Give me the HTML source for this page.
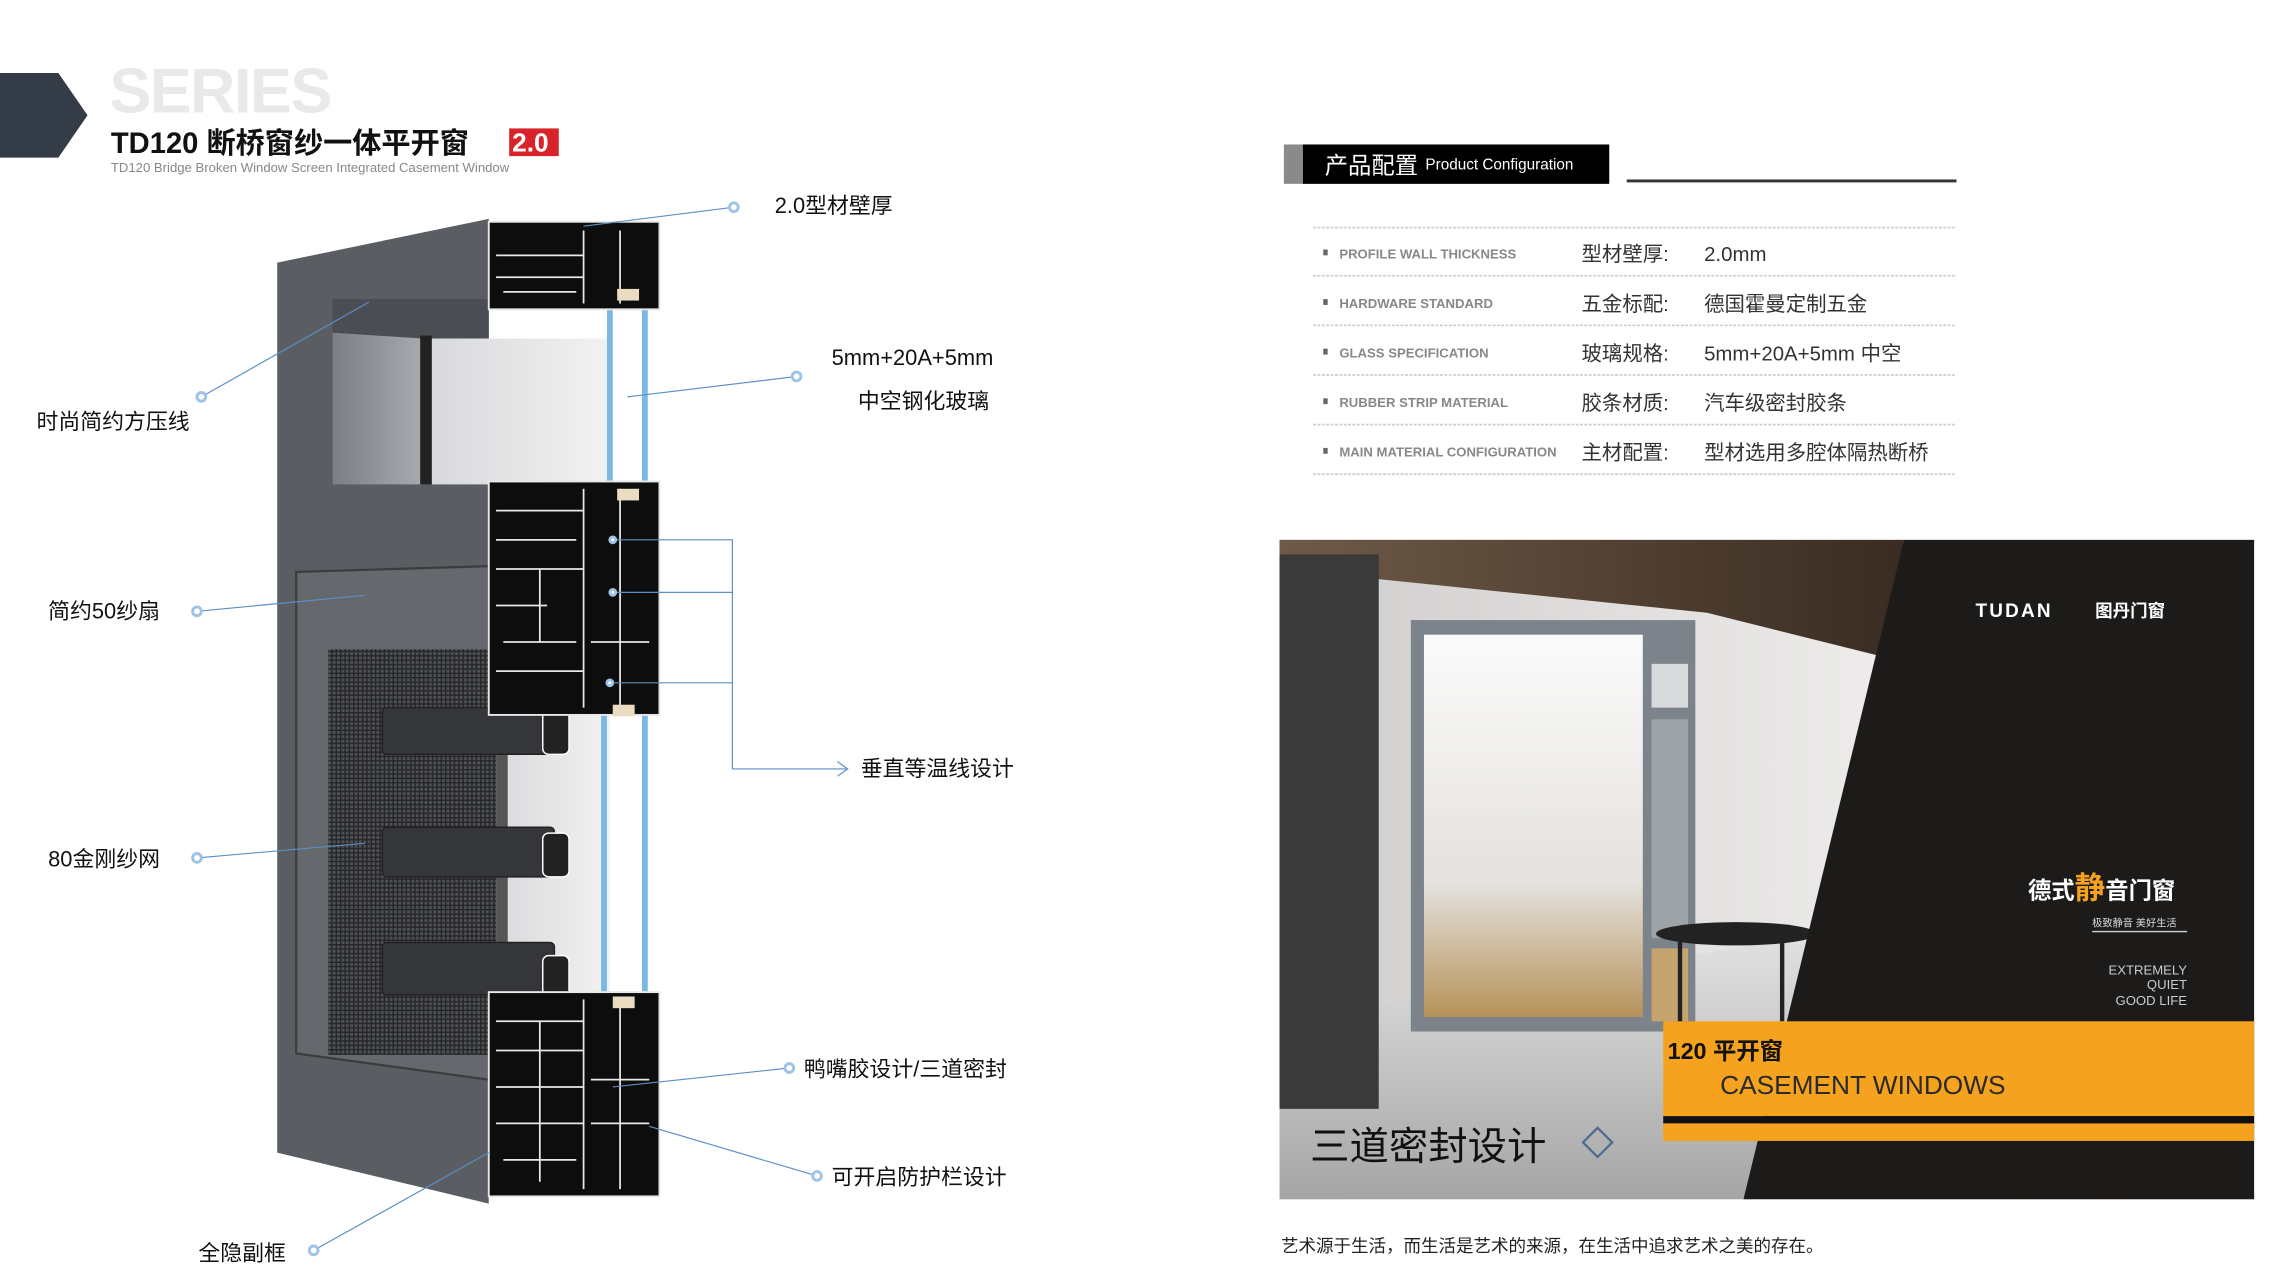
<!DOCTYPE html>
<html><head><meta charset="utf-8"><style>
html,body{margin:0;padding:0;background:#fff;}
svg{display:block;}
text{font-family:"Liberation Sans","Noto Sans CJK SC",sans-serif;}
</style></head><body>
<svg width="2276" height="1280" viewBox="0 0 1560 877.3" xmlns="http://www.w3.org/2000/svg">
<defs>
<pattern id="mesh" width="3" height="3" patternUnits="userSpaceOnUse"><rect width="3" height="3" fill="#262729"/><rect width="2" height="2" fill="#4e5053"/></pattern>
<linearGradient id="rev" x1="0" x2="1"><stop offset="0" stop-color="#7c8086"/><stop offset="1" stop-color="#a7abb0"/></linearGradient>
<linearGradient id="gl" x1="0" x2="1"><stop offset="0" stop-color="#d8d9db"/><stop offset="1" stop-color="#f2f2f2"/></linearGradient>
<linearGradient id="wall" x1="0" x2="1"><stop offset="0" stop-color="#cfcdcc"/><stop offset="0.6" stop-color="#ecebea"/><stop offset="1" stop-color="#d9d8d6"/></linearGradient>
<linearGradient id="sky" x1="0" y1="0" x2="0" y2="1"><stop offset="0" stop-color="#fbfbfb"/><stop offset="0.65" stop-color="#e4e2de"/><stop offset="1" stop-color="#b7925a"/></linearGradient>
<linearGradient id="floor" x1="0" y1="0" x2="0" y2="1"><stop offset="0" stop-color="#e2e2e2"/><stop offset="1" stop-color="#a5a5a5"/></linearGradient>
<linearGradient id="ceil" x1="0" x2="1"><stop offset="0" stop-color="#6e5a48"/><stop offset="1" stop-color="#3a2c22"/></linearGradient>
</defs>

<polygon points="0,50 40,50 60,79 40,108 0,108" fill="#343c48"/>
<text x="75" y="77" font-size="43" font-weight="bold" fill="#e9e9ea" letter-spacing="-1">SERIES</text>
<text x="76" y="105" font-size="20" font-weight="bold" fill="#111">TD120 断桥窗纱一体平开窗</text>
<rect x="349" y="88" width="34" height="19" fill="#d9232a"/>
<text x="351" y="104" font-size="18" font-weight="bold" fill="#fff">2.0</text>
<text x="76" y="118" font-size="9" fill="#888">TD120 Bridge Broken Window Screen Integrated Casement Window</text>

<polygon points="190,180 335,150 335,825 190,790" fill="#5a5d62"/>
<polygon points="228,228 290,232 290,332 228,332" fill="url(#rev)"/>
<polygon points="228,205 335,205 335,232 290,232 228,228" fill="#4a4d52"/>
<rect x="288" y="230" width="8" height="102" fill="#222"/>
<rect x="296" y="232" width="122" height="100" fill="url(#gl)"/>
<polygon points="203,392 335,388 335,740 203,722" fill="#65686d" stroke="#3a3c40" stroke-width="1.5"/>
<rect x="225" y="445" width="115" height="278" fill="url(#mesh)"/>
<rect x="340" y="490" width="78" height="192" fill="url(#gl)"/>
<rect x="340" y="490" width="8" height="192" fill="#555"/>
<g fill="#35363a" stroke="#222">
<rect x="262" y="485" width="118" height="32" rx="3"/>
<rect x="262" y="567" width="118" height="34" rx="3"/>
<rect x="262" y="646" width="118" height="36" rx="3"/>
</g>
<g fill="#222" stroke="#fff" stroke-width="1">
<rect x="372" y="487" width="18" height="30" rx="4"/>
<rect x="372" y="571" width="18" height="30" rx="4"/>
<rect x="372" y="655" width="18" height="32" rx="4"/>
</g>
<g fill="#7ab9e4">
<rect x="416" y="208" width="4" height="125"/><rect x="440" y="208" width="4" height="125"/>
<rect x="412" y="490" width="4" height="193"/><rect x="440" y="490" width="4" height="193"/>
</g>
<g fill="#0d0d0d" stroke="#e8e8e8" stroke-width="1.3">
<rect x="335" y="152" width="117" height="60"/>
<rect x="335" y="330" width="117" height="160"/>
<rect x="335" y="680" width="117" height="140"/>
</g>
<g fill="none" stroke="#e8e8e8" stroke-width="1.2">
<path d="M340 175h60M340 190h60M400 158v50M425 158v50M345 200h50"/>
<path d="M340 350h60M340 370h55M340 390h60M340 415h35M370 390v50M400 335v150M425 335v150M345 440h50M405 440h40M340 460h60"/>
<path d="M340 700h60M340 720h60M340 745h60M370 700v110M400 685v130M425 685v130M340 770h60M345 795h50M405 740h40M405 770h40"/>
</g>
<g fill="#e9dcc0"><rect x="423" y="198" width="15" height="8"/><rect x="423" y="335" width="15" height="8"/><rect x="420" y="483" width="15" height="8"/><rect x="420" y="683" width="15" height="8"/></g>

<g stroke="#5d8fc4" stroke-width="0.8" fill="none">
<line x1="503" y1="142" x2="400" y2="155"/>
<line x1="546" y1="258" x2="430" y2="272"/>
<line x1="138" y1="272" x2="253" y2="207"/>
<line x1="135" y1="419" x2="250" y2="408"/>
<line x1="135" y1="588" x2="250" y2="578"/>
<line x1="541" y1="732" x2="420" y2="745"/>
<line x1="560" y1="806" x2="445" y2="772"/>
<line x1="215" y1="857" x2="335" y2="790"/>
<path d="M420 370H502V527H580M420 406H502M420 468H502"/>
<path d="M574 522L581 527L574 532"/>
</g>
<g fill="#fff" stroke="#9fc3e6" stroke-width="2">
<circle cx="503" cy="142" r="3"/><circle cx="546" cy="258" r="3"/><circle cx="138" cy="272" r="3"/>
<circle cx="135" cy="419" r="3"/><circle cx="135" cy="588" r="3"/><circle cx="541" cy="732" r="3"/>
<circle cx="560" cy="806" r="3"/><circle cx="215" cy="857" r="3"/>
<circle cx="420" cy="370" r="2"/><circle cx="420" cy="406" r="2"/><circle cx="418" cy="468" r="2"/>
</g>
<g font-size="15" fill="#111">
<text x="531" y="146">2.0型材壁厚</text>
<text x="570" y="250">5mm+20A+5mm</text>
<text x="588" y="280">中空钢化玻璃</text>
<text x="25" y="294">时尚简约方压线</text>
<text x="33" y="424">简约50纱扇</text>
<text x="590" y="532">垂直等温线设计</text>
<text x="33" y="594">80金刚纱网</text>
<text x="551" y="738">鸭嘴胶设计/三道密封</text>
<text x="570" y="812">可开启防护栏设计</text>
<text x="136" y="864">全隐副框</text>
</g>

<rect x="880" y="99" width="13" height="27" fill="#8a8a8a"/>
<rect x="893" y="99" width="210" height="27" fill="#000"/>
<text x="908" y="119" font-size="16" fill="#fff">产品配置</text>
<text x="977" y="116" font-size="10.5" fill="#fff">Product Configuration</text>
<rect x="1115" y="123" width="226" height="2" fill="#333"/>
<g stroke="#cfcfcf" stroke-width="1.2" stroke-dasharray="2 1">
<line x1="900" y1="156" x2="1341" y2="156"/><line x1="900" y1="189" x2="1341" y2="189"/>
<line x1="900" y1="223" x2="1341" y2="223"/><line x1="900" y1="257" x2="1341" y2="257"/>
<line x1="900" y1="291" x2="1341" y2="291"/><line x1="900" y1="325" x2="1341" y2="325"/>
</g>
<g fill="#666"><rect x="907" y="171" width="3" height="4"/><rect x="907" y="205" width="3" height="4"/><rect x="907" y="239" width="3" height="4"/><rect x="907" y="273" width="3" height="4"/><rect x="907" y="307" width="3" height="4"/></g>
<g font-size="9" fill="#888" font-weight="bold">
<text x="918" y="177">PROFILE WALL THICKNESS</text>
<text x="918" y="211">HARDWARE STANDARD</text>
<text x="918" y="245">GLASS SPECIFICATION</text>
<text x="918" y="279">RUBBER STRIP MATERIAL</text>
<text x="918" y="313">MAIN MATERIAL CONFIGURATION</text>
</g>
<g font-size="14" fill="#333">
<text x="1084" y="179">型材壁厚:</text><text x="1168" y="179">2.0mm</text>
<text x="1084" y="213">五金标配:</text><text x="1168" y="213">德国霍曼定制五金</text>
<text x="1084" y="247">玻璃规格:</text><text x="1168" y="247">5mm+20A+5mm 中空</text>
<text x="1084" y="281">胶条材质:</text><text x="1168" y="281">汽车级密封胶条</text>
<text x="1084" y="315">主材配置:</text><text x="1168" y="315">型材选用多腔体隔热断桥</text>
</g>

<rect x="877" y="370" width="668" height="452" fill="url(#wall)"/>
<polygon points="877,370 1305,370 1290,450 1170,420 877,390" fill="url(#ceil)"/>
<polygon points="877,700 1250,640 1200,822 877,822" fill="url(#floor)"/>
<rect x="877" y="380" width="68" height="380" fill="#3a3a3a"/>
<rect x="967" y="425" width="195" height="282" fill="#7d838a"/>
<rect x="976" y="435" width="150" height="262" fill="url(#sky)"/>
<rect x="1132" y="455" width="25" height="30" fill="#d8dadc"/>
<rect x="1132" y="493" width="25" height="150" fill="#9ea3a8"/>
<rect x="1132" y="650" width="25" height="50" fill="#c6a470"/>
<ellipse cx="1190" cy="640" rx="55" ry="8" fill="#222"/>
<rect x="1150" y="640" width="3" height="70" fill="#222"/><rect x="1220" y="640" width="3" height="60" fill="#222"/>
<polygon points="1305,370 1545,370 1545,822 1195,822" fill="#1c1b1a"/>
<text x="1354" y="423" font-size="13" font-weight="bold" fill="#fff" letter-spacing="1.5">TUDAN</text>
<text x="1436" y="423" font-size="12" font-weight="bold" fill="#fff">图丹门窗</text>
<text x="1390" y="616" font-size="16" font-weight="bold" fill="#fff">德式<tspan fill="#f5a21e" font-size="21">静</tspan>音门窗</text>
<text x="1434" y="635" font-size="7" fill="#ddd">极致静音 美好生活</text>
<rect x="1434" y="638" width="65" height="1" fill="#ccc"/>
<g font-size="9" fill="#ccc" text-anchor="end"><text x="1499" y="668">EXTREMELY</text><text x="1499" y="678">QUIET</text><text x="1499" y="689">GOOD LIFE</text></g>
<rect x="1140" y="700" width="405" height="65" fill="#f5a21e"/>
<rect x="1140" y="765" width="405" height="5" fill="#111"/>
<rect x="1140" y="770" width="405" height="12" fill="#f5a21e"/>
<text x="1143" y="726" font-size="16" font-weight="bold" fill="#111">120 平开窗</text>
<text x="1179" y="750" font-size="18" fill="#2a2a2a">CASEMENT WINDOWS</text>
<text x="898" y="795" font-size="27" fill="#111">三道密封设计</text>
<polygon points="1095,773 1105,783 1095,793 1085,783" fill="none" stroke="#4a6a90" stroke-width="1.5"/>
<text x="878" y="858" font-size="12" fill="#222">艺术源于生活，而生活是艺术的来源，在生活中追求艺术之美的存在。</text>
</svg>
</body></html>
